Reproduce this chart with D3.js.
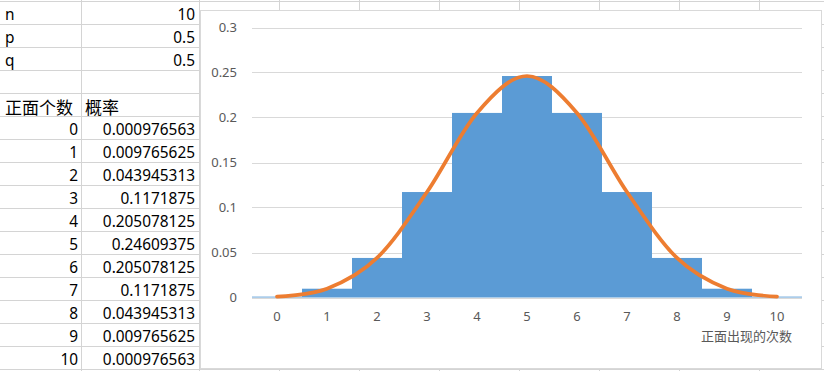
<!DOCTYPE html>
<html>
<head>
<meta charset="utf-8">
<title>二项分布</title>
<style>
body { margin: 0; background: #fff; overflow: hidden; }
svg { display: block; }
.cell { font-family: "Noto Sans", sans-serif; font-size: 15.4px; fill: #000; }
.cjk { font-family: "Noto Sans CJK SC", sans-serif; font-size: 17px; fill: #000; }
.axis text { font-family: "Noto Sans", sans-serif; font-size: 13px; fill: #595959; }
.atitle { font-family: "Noto Sans CJK SC", sans-serif; font-size: 13px; fill: #595959; }
</style>
</head>
<body>
<div id="graphic"></div>
<script src="https://d3js.org/d3.v7.min.js"></script>
<script>

// spreadsheet values
var paramNames = ["n", "p", "q"];
var paramValues = ["10", "0.5", "0.5"];
var headers = ["正面个数", "概率"];
var counts = [0, 1, 2, 3, 4, 5, 6, 7, 8, 9, 10];
var probs = [0.000976563, 0.009765625, 0.043945313, 0.1171875, 0.205078125,
             0.24609375, 0.205078125, 0.1171875, 0.043945313, 0.009765625, 0.000976563];
var probLabels = ["0.000976563", "0.009765625", "0.043945313", "0.1171875", "0.205078125",
                  "0.24609375", "0.205078125", "0.1171875", "0.043945313", "0.009765625", "0.000976563"];

// chart axis
var yTicks = [0, 0.05, 0.1, 0.15, 0.2, 0.25, 0.3];
var xTitle = "正面出现的次数";

var w = 824, h = 371;
var rowH = 23, rowTop = 1;
var colLines = [81, 199, 279, 359, 439, 519, 599, 679, 759, 839];

var svg = d3.select("#graphic").append("svg")
    .attr("width", w)
    .attr("height", h);

// --- sheet grid
var grid = svg.append("g").attr("stroke", "#d4d4d4").attr("stroke-width", 1);
d3.range(0, 17).forEach(function(i) {
    var y = rowTop + i * rowH + 0.5;
    grid.append("line").attr("x1", 0).attr("x2", w).attr("y1", y).attr("y2", y);
});
colLines.forEach(function(x) {
    grid.append("line").attr("x1", x + 0.5).attr("x2", x + 0.5).attr("y1", 0).attr("y2", h);
});

function rowY(r) { return rowTop + r * rowH + rowH / 2 + 1.5; }

var sheet = svg.append("g");
paramNames.forEach(function(d, i) {
    sheet.append("text").attr("class", "cell").attr("x", 5).attr("y", rowY(i))
        .attr("dominant-baseline", "central").text(d);
    sheet.append("text").attr("class", "cell").attr("x", 195).attr("y", rowY(i))
        .attr("dominant-baseline", "central").attr("text-anchor", "end").text(paramValues[i]);
});
sheet.append("text").attr("class", "cjk").attr("x", 5).attr("y", rowY(4))
    .attr("dominant-baseline", "central").text(headers[0]);
sheet.append("text").attr("class", "cjk").attr("x", 85).attr("y", rowY(4))
    .attr("dominant-baseline", "central").text(headers[1]);

sheet.selectAll("text.k").data(counts).enter().append("text")
    .attr("class", "cell k")
    .attr("x", 78)
    .attr("y", function(d, i) { return rowY(5 + i); })
    .attr("dominant-baseline", "central")
    .attr("text-anchor", "end")
    .text(function(d) { return d; });

sheet.selectAll("text.pv").data(probLabels).enter().append("text")
    .attr("class", "cell pv")
    .attr("x", 195)
    .attr("y", function(d, i) { return rowY(5 + i); })
    .attr("dominant-baseline", "central")
    .attr("text-anchor", "end")
    .text(function(d) { return d; });

// --- chart box
svg.append("rect")
    .attr("x", 200.5).attr("y", 10.5)
    .attr("width", 621).attr("height", 358)
    .attr("fill", "#fff")
    .attr("stroke", "#d9d9d9");

var x = d3.scaleBand().domain(counts).range([252, 802]).padding(0);
var y = d3.scaleLinear().domain([0, 0.3]).range([297.5, 27.5]);

// gridlines
svg.append("g").selectAll("line").data(yTicks).enter().append("line")
    .attr("x1", 252).attr("x2", 802)
    .attr("y1", function(d) { return Math.round(y(d)) + 0.5; })
    .attr("y2", function(d) { return Math.round(y(d)) + 0.5; })
    .attr("stroke", "#d9d9d9");

// y axis labels
var yAxis = svg.append("g").attr("class", "axis")
    .attr("transform", "translate(252,0)")
    .call(d3.axisLeft(y).tickValues(yTicks).tickSize(0).tickPadding(15)
        .tickFormat(function(d) { return String(+d.toFixed(2)); }));
yAxis.select(".domain").remove();

// bars
svg.append("g").selectAll("rect").data(probs).enter().append("rect")
    .attr("x", function(d, i) { return x(counts[i]); })
    .attr("y", function(d) { return y(d); })
    .attr("width", x.bandwidth())
    .attr("height", function(d) { return y(0) - y(d); })
    .attr("fill", "#5b9bd5");

// x axis labels
var xAxis = svg.append("g").attr("class", "axis")
    .attr("transform", "translate(0,297.5)")
    .call(d3.axisBottom(x).tickSize(0).tickPadding(14));
xAxis.select(".domain").remove();

svg.append("text").attr("class", "atitle")
    .attr("x", 792).attr("y", 335)
    .attr("dominant-baseline", "central")
    .attr("text-anchor", "end")
    .text(xTitle);

// smoothed line
var line = d3.line()
    .x(function(d, i) { return x(counts[i]) + x.bandwidth() / 2; })
    .y(function(d) { return y(d); })
    .curve(d3.curveCardinal.tension(0));

svg.append("path")
    .datum(probs)
    .attr("d", line)
    .attr("fill", "none")
    .attr("stroke", "#ed7d31")
    .attr("stroke-width", 3.7)
    .attr("stroke-linecap", "round")
    .attr("stroke-linejoin", "round");

</script>
</body>
</html>
